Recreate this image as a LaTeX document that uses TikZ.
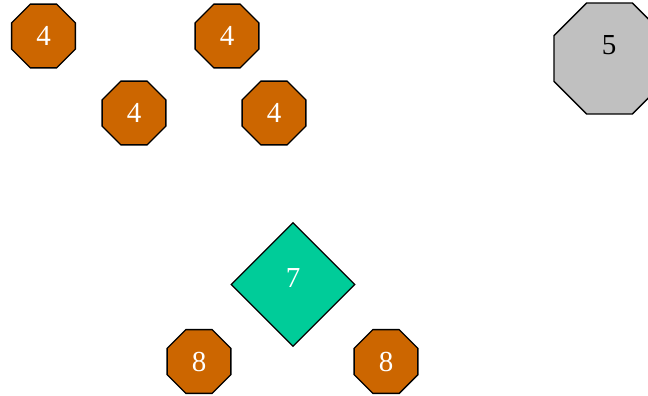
\documentclass[tikz,border=0pt]{standalone}
\usepackage{fontspec}
\setmainfont{Liberation Serif}
\usetikzlibrary{shapes.geometric}
\definecolor{orng}{RGB}{204,102,0}
\definecolor{teal2}{RGB}{0,204,153}
\definecolor{gry}{RGB}{192,192,192}
\tikzset{
  oct/.style={regular polygon, regular polygon sides=8, draw=black, line width=1.3pt,
    fill=orng, text=white, inner sep=0pt, minimum size=69pt, font=\fontsize{29}{29}\selectfont},
  bigoct/.style={regular polygon, regular polygon sides=8, draw=black, line width=1.3pt,
    fill=gry, inner sep=0pt, minimum size=120pt},
  dia/.style={diamond, draw=black, line width=1.3pt, fill=teal2, inner sep=0pt,
    minimum width=124pt, minimum height=124pt, aspect=1},
  lbl/.style={font=\fontsize{29}{29}\selectfont, inner sep=0pt}
}
\begin{document}
\begin{tikzpicture}[x=1pt,y=-1pt]
\useasboundingbox (0,0) rectangle (648,396);
\node[oct] (a) at (43.5,36) {4};
\node[oct] (b) at (227,36) {4};
\node[oct] (c) at (134,113) {4};
\node[oct] (d) at (274,113) {4};
\node[bigoct] (e) at (609.5,58.5) {};
\node[lbl] (e5) at (609,45) {5};
\node[dia] (f) at (293,284.5) {};
\node[lbl, text=white] (f7) at (293,278) {7};
\node[oct] (g) at (199,361.5) {8};
\node[oct] (h) at (386,361.5) {8};
\end{tikzpicture}
\end{document}
